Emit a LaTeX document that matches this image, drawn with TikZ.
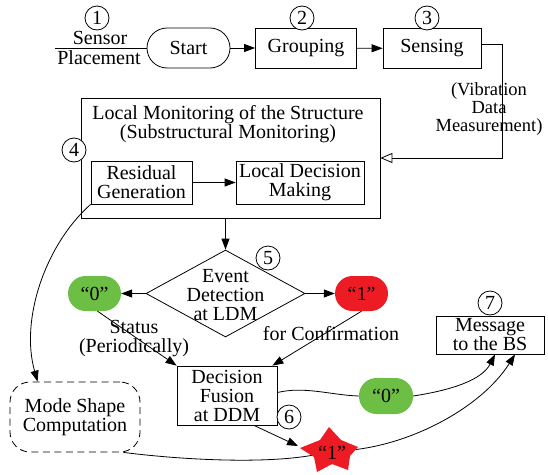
\documentclass[tikz,border=0pt]{standalone}
\usepackage{fontspec}
\setmainfont{Liberation Serif}
\usetikzlibrary{arrows.meta,shapes.geometric,calc}
\definecolor{gfill}{RGB}{109,190,69}
\definecolor{rfill}{RGB}{237,28,36}
\newcommand\fsz{\fontsize{20pt}{19pt}\selectfont}
\newcommand\fszv{\fontsize{18.5pt}{18pt}\selectfont}
\begin{document}
\begin{tikzpicture}[x=1pt,y=-1pt,
  box/.style={draw, line width=0.8pt, font=\fsz, align=center, inner sep=0pt},
  lbl/.style={font=\fsz, align=center, inner sep=0pt},
  pill/.style={font=\fsz, inner sep=0pt, minimum width=54pt, minimum height=36pt, rounded corners=17.5pt},
  num/.style={circle, draw, fill=white, line width=0.8pt, minimum size=24pt, inner sep=0pt, font=\fsz},
  ln/.style={line width=0.8pt},
  arr/.style={line width=0.8pt, -{Triangle[length=11pt,width=8pt]}},
  oarr/.style={line width=0.8pt, -{Triangle[open,length=12pt,width=10pt]}}]
\useasboundingbox (0,0) rectangle (548,474);

% top row
\node[box, minimum width=83pt, minimum height=40pt, rounded corners=20pt] (start) at (188.5,48) {Start};
\node[box, minimum width=101pt, minimum height=40pt] (grp) at (306,48) {Grouping};
\node[box, minimum width=98pt, minimum height=40pt] (sens) at (432,48.5) {Sensing};
\node[num] (c1) at (97,18) {1};
\node[num] (c2) at (302,18) {2};
\node[num] (c3) at (427,18) {3};
\coordinate (sp) at (55,48);
\node[lbl] (sensor) at (100,38) {Sensor};
\node[lbl] (place) at (99,58) {Placement};
\draw[ln] (sp) -- (start.west);
\draw[arr] (start) -- (grp);
\draw[arr] (grp) -- (sens);

% vibration label
\node[font=\fszv, align=center, inner sep=0pt] (vib) at (489,109) {(Vibration\\Data\\Measurement)};

% local monitoring box
\node[draw, line width=0.8pt, minimum width=299pt, minimum height=120pt, inner sep=0pt] (lm) at (230.5,158) {};
\node[lbl] (lmt) at (228,124) {Local Monitoring of the Structure\\(Substructural Monitoring)};
\node[box, minimum width=101pt, minimum height=43pt] (res) at (141.5,182.5) {Residual\\Generation};
\node[box, minimum width=128pt, minimum height=43pt] (ldm) at (300,182.5) {Local Decision\\Making};
\node[num] (c4) at (74,150) {4};
\draw[arr] (res) -- (ldm);
\coordinate (bend) at (502,158);
\draw[oarr] ([yshift=4pt]sens.east) -| (bend) -- (lm.east);

% decision diamond
\node[diamond, draw, line width=0.8pt, minimum width=159pt, minimum height=87pt, inner sep=0pt] (dia) at (225.5,293.5) {};
\node[lbl] (diat) at (225.5,295) {Event\\Detection\\at LDM};
\node[num] (c5) at (268,258) {5};
\draw[arr] (dia.north |- lm.south) -- (dia.north);
\node[pill, fill=gfill, minimum width=53pt, minimum height=35pt] (g0a) at (94.5,293.5) {“0”};
\node[pill, fill=rfill, minimum width=53pt, minimum height=35pt] (r1) at (361.5,293.5) {“1”};
\draw[arr] (dia.west) -- (g0a.east);
\draw[arr] (dia.east) -- (r1.west);

% decision fusion
\node[box, minimum width=100pt, minimum height=59pt] (df) at (227,395.5) {Decision\\Fusion\\at DDM};
\node[num] (c6) at (289,417) {6};
\node[box, minimum width=108pt, minimum height=38pt] (msg) at (490,335) {Message\\to the BS};
\node[num] (c7) at (490,303) {7};
\draw[arr] ([xshift=3pt]g0a.south) -- (df.north west);
\draw[arr] (r1.south) -- ([xshift=-5pt]df.north east);
\node[lbl] (stat) at (134,339) {Status\\(Periodically)};
\node[lbl] (conf) at (331,334) {for Confirmation};

\node[pill, fill=gfill] (g0b) at (386,396) {“0”};
\draw[ln] ([yshift=3pt]df.east) .. controls (305,386) and (330,395) .. (g0b.west);
\draw[arr] (g0b.east) .. controls (452,390) and (482,380) .. ([xshift=5pt]msg.south);

% mode shape
\node[draw, line width=0.8pt, dash pattern=on 7pt off 4.5pt, rounded corners=20pt, minimum width=130pt, minimum height=70pt, font=\fsz, align=center, inner sep=0pt] (ms) at (75,417) {Mode Shape\\Computation};
\draw[arr] (res.south west) .. controls (45,245) and (20,320) .. ([xshift=28pt]ms.north west);

% star
\coordinate (stc) at (330,451);
\coordinate (stw) at (298,446);
\draw[ln] ([xshift=-17pt]ms.south east) .. controls (200,462) and (290,464) .. (stc);
\draw[arr] (stc) .. controls (400,452) and (480,410) .. ([xshift=25pt]msg.south);
\draw[arr] ([xshift=27pt]df.south) -- (stw);
\fill[rfill] (329,427) -- (341,440) -- (358,447) -- (350,456) -- (348,470) -- (332,464) -- (317,472) -- (314,457) -- (300,448) -- (320,440) -- cycle;
\node[lbl] (one) at (332,453) {“1”};
\end{tikzpicture}
\end{document}
